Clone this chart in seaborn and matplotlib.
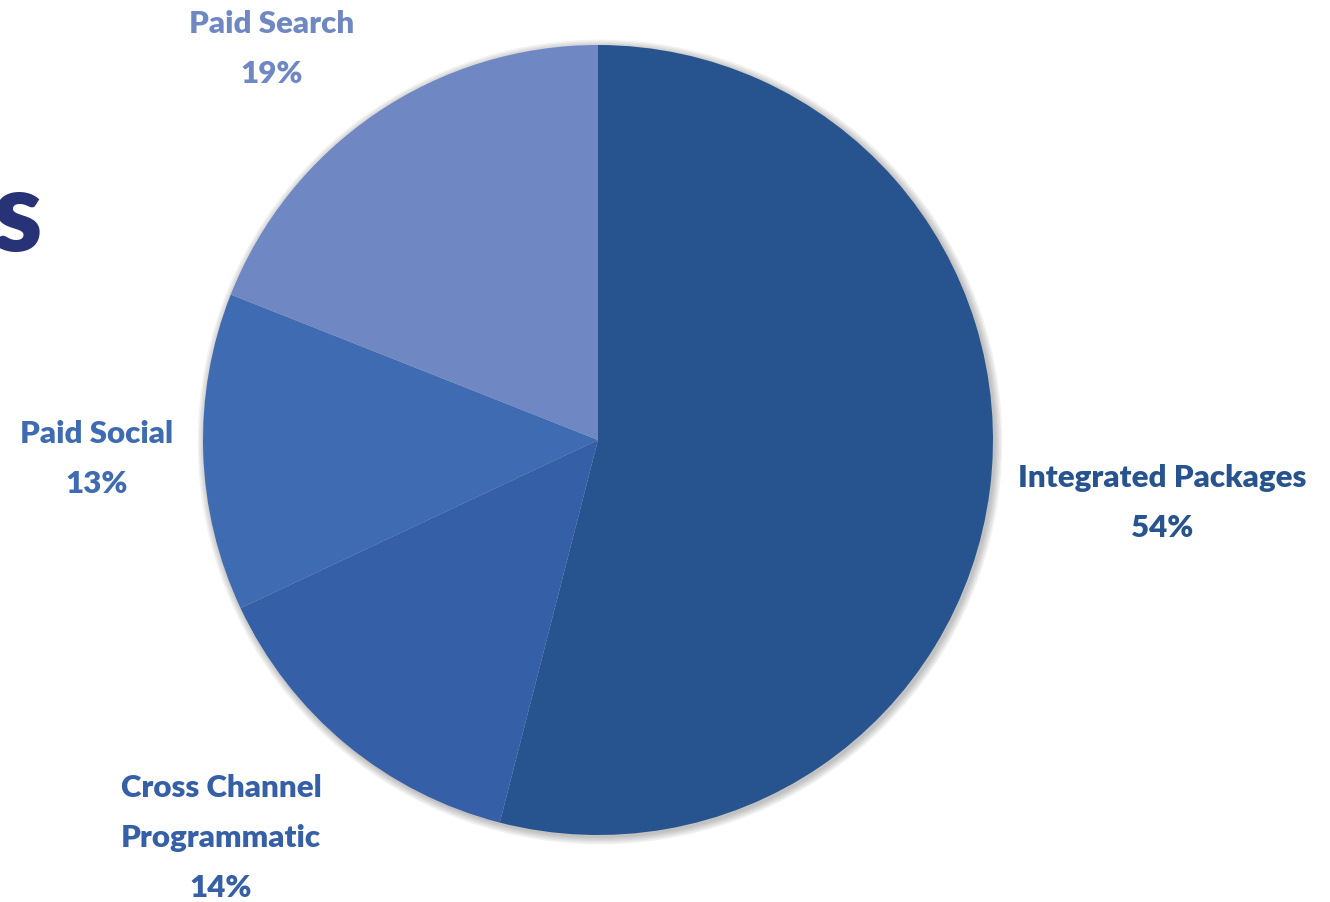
import matplotlib
matplotlib.use("Agg")
import matplotlib.pyplot as plt
import seaborn as sns
from matplotlib.patches import Circle

sns.set_theme(style="white")
plt.rcParams['font.family'] = ['Lato', 'DejaVu Sans']

categories = ["Integrated Packages", "Cross Channel\nProgrammatic", "Paid Social", "Paid Search"]
values = [54, 14, 13, 19]
colors = ["#27548E", "#355FA6", "#3F6BB3", "#6F88C4"]

fig = plt.figure(figsize=(13.3, 9.03), dpi=100)
ax = fig.add_axes([0, 0, 1, 1])

cx, cy, r = 598, 903 - 441, 395

# soft shadow
for i in range(5):
    ax.add_patch(Circle((cx + 2, cy - 2), r + 1 + i * 1.6, color="black", alpha=0.05, lw=0, zorder=0))

ax.pie(values, colors=colors, startangle=90, counterclock=False,
       center=(cx, cy), radius=r, wedgeprops=dict(linewidth=0), frame=True)
ax.set_xlim(0, 1330)
ax.set_ylim(0, 903)
ax.set_aspect("equal")
ax.axis("off")

# label positions (pixel centers from top)
label_pos = {
    "Integrated Packages": (1162, 503),
    "Cross Channel\nProgrammatic": (221, 838),
    "Paid Social": (97, 459),
    "Paid Search": (272, 49),
}
for cat, val, col in zip(categories, values, colors):
    x, y = label_pos[cat]
    ax.text(x, 903 - y, f"{cat}\n{val}%", ha="center", va="center", color=col,
            fontsize=22.5, fontweight="heavy", linespacing=1.95)

ax.text(42, 903 - 218, "s", ha="right", va="center", color="#283377",
        fontsize=80, fontweight="heavy")

fig.savefig("out.png", dpi=100)
